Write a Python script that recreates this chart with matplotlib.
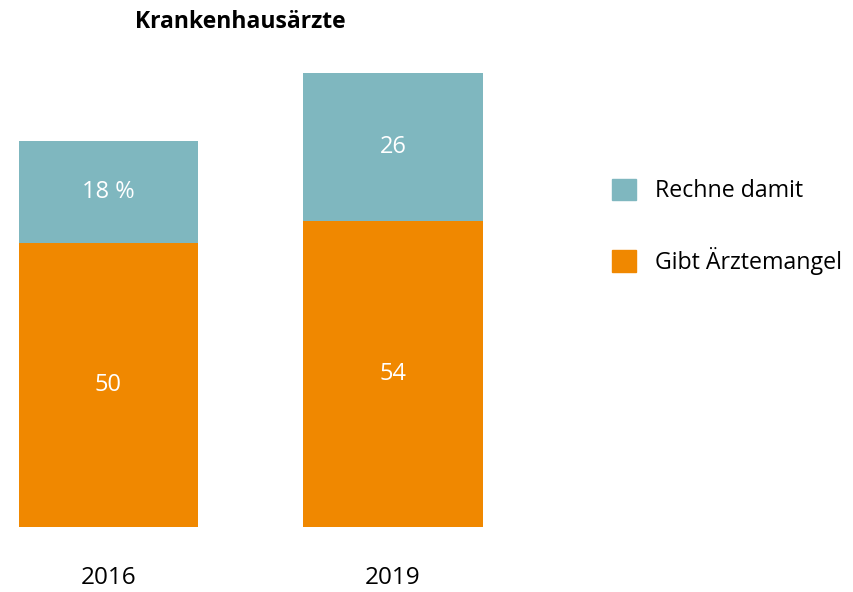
import matplotlib.pyplot as plt
from matplotlib.patches import Patch

plt.rcParams['font.family'] = ['Open Sans', 'DejaVu Sans']

years = ['2016', '2019']
mangel = [50, 54]
rechne = [18, 26]
mangel_labels = ['50', '54']
rechne_labels = ['18 %', '26']

teal = '#7fb7bf'
orange = '#f08800'

fig = plt.figure(figsize=(8.54, 5.92), dpi=100)
ax = fig.add_axes([0.0005, 1 - 527 / 592, 0.586, 0.767])

x = range(len(years))
b1 = ax.bar(x, mangel, width=0.631, color=orange)
b2 = ax.bar(x, rechne, width=0.631, bottom=mangel, color=teal)

for i in x:
    ax.text(i, mangel[i] / 2, mangel_labels[i], ha='center', va='center',
            color='white', fontsize=17)
    ax.text(i, mangel[i] + rechne[i] / 2, rechne_labels[i], ha='center',
            va='center', color='white', fontsize=17)

ax.set_xlim(-0.38, 1.38)
ax.set_ylim(0, 80)
ax.set_xticks(list(x))
ax.set_xticklabels(years, fontsize=17.5)
ax.tick_params(axis='x', length=0, pad=28)
ax.set_yticks([])
for s in ax.spines.values():
    s.set_visible(False)

fig.text(240 / 854, 1 - 22 / 592, 'Krankenhausärzte', ha='center',
         va='center', fontsize=16.5, fontweight='bold')

handles = [Patch(color=teal, label='Rechne damit'),
           Patch(color=orange, label='Gibt Ärztemangel')]
fig.legend(handles=handles, loc='upper left',
           bbox_to_anchor=(600 / 854, 1 - 167 / 592), frameon=False,
           fontsize=16.7, handlelength=1.05, handleheight=1.05,
           handletextpad=0.8, labelspacing=1.88, borderpad=0)

fig.savefig('out.png', dpi=100)
